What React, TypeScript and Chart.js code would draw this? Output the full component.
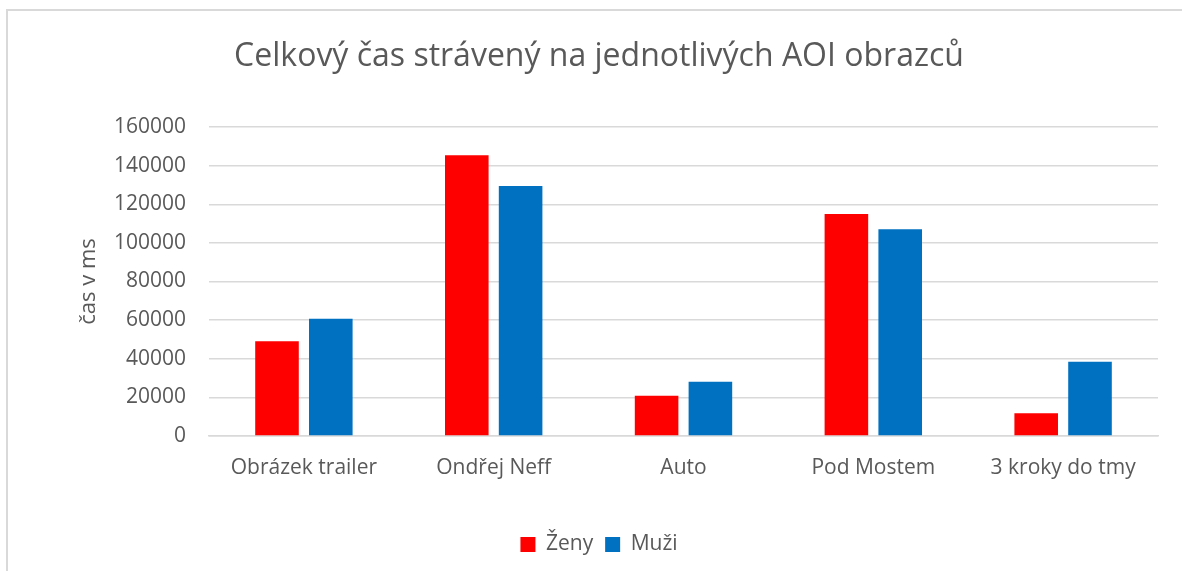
import React, { useEffect, useRef } from "react";
import { Chart, registerables } from "chart.js";

Chart.register(...registerables);

const categories = ["Obrázek trailer", "Ondřej Neff", "Auto", "Pod Mostem", "3 kroky do tmy"];
const zenyValues = [49000, 145400, 20800, 114900, 11800];
const muziValues = [60700, 129500, 28100, 107100, 38500];
const yTicks = [0, 20000, 40000, 60000, 80000, 100000, 120000, 140000, 160000];

const TEXT = "#595959";
const FONT = "'Open Sans', sans-serif";

export default function App() {
  const ref = useRef<HTMLCanvasElement | null>(null);
  useEffect(() => {
    if (!ref.current) return;
    const chart = new Chart(ref.current, {
      type: "bar",
      data: {
        labels: categories,
        datasets: [
          { label: "Ženy", data: zenyValues, backgroundColor: "#FF0000", categoryPercentage: 0.567, barPercentage: 0.81 },
          { label: "Muži", data: muziValues, backgroundColor: "#0070C0", categoryPercentage: 0.567, barPercentage: 0.81 },
        ],
      },
      options: {
        responsive: false,
        animation: false,
        layout: { padding: { left: 40, right: 24, top: 22, bottom: 6 } },
        plugins: {
          title: {
            display: true,
            text: "Celkový čas strávený na jednotlivých AOI obrazců",
            color: TEXT,
            font: { family: FONT, size: 32, weight: "normal" },
            padding: { top: 16, bottom: 50.6 },
          },
          legend: {
            position: "bottom",
            labels: {
              color: TEXT,
              font: { family: FONT, size: 21 },
              boxWidth: 15,
              boxHeight: 15,
              padding: 12,
            },
          },
          tooltip: { enabled: false },
        },
        scales: {
          x: {
            grid: { display: false, drawTicks: false },
            border: { color: "#d9d9d9", width: 1.5 },
            ticks: { color: TEXT, font: { family: FONT, size: 21 }, padding: 19 },
            afterFit: (s: any) => { s.height = 86; },
          },
          y: {
            min: 0,
            max: 160000,
            afterBuildTicks: (s: any) => { s.ticks = yTicks.map((v) => ({ value: v })); },
            grid: { color: "#d9d9d9", lineWidth: 1.5, drawTicks: false },
            border: { display: false },
            ticks: {
              color: TEXT,
              font: { family: FONT, size: 21 },
              padding: 23,
              callback: (v: any) => String(v),
            },
            title: { display: true, text: "čas v ms", color: TEXT, font: { family: FONT, size: 22 }, padding: { top: 36, bottom: 10 } },
            afterFit: (s: any) => { s.width = 169; },
          },
        },
      },
    });
    return () => chart.destroy();
  }, []);
  return (
    <div style={{ position: "fixed", left: 0, top: 0, width: 1182, height: 571, background: "#fff", overflow: "hidden" }}>
      <div style={{ position: "absolute", left: 6, top: 9, width: 1300, height: 700, border: "2px solid #d9d9d9", boxSizing: "border-box" }} />
      <canvas ref={ref} width={1182} height={571} style={{ position: "absolute", left: 0, top: 0 }} />
    </div>
  );
}
